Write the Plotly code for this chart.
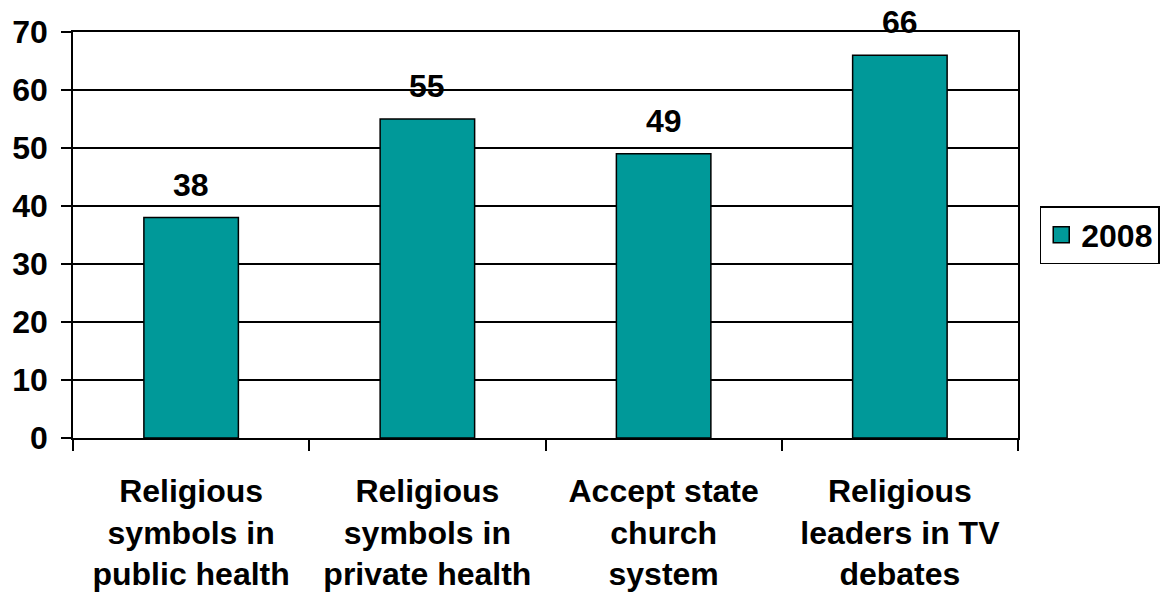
import plotly.graph_objects as go

categories = [
    "Religious<br>symbols in<br>public health",
    "Religious<br>symbols in<br>private health",
    "Accept state<br>church<br>system",
    "Religious<br>leaders in TV<br>debates",
]
values_2008 = [38, 55, 49, 66]
series_name = "2008"

teal = "#009999"
font_family = "Liberation Sans, Arial, sans-serif"
bold = dict(family=font_family, size=32, color="black", weight="bold")

fig = go.Figure()
fig.add_trace(go.Bar(
    x=categories,
    y=values_2008,
    name=series_name,
    marker=dict(color=teal, line=dict(color="black", width=1.5)),
    showlegend=False,
))

# legend entry with a larger square swatch
fig.add_trace(go.Scatter(
    x=[None], y=[None], mode="markers", name=series_name,
    marker=dict(symbol="square", size=19, color=teal,
                line=dict(color="black", width=1.5)),
    showlegend=True,
))

# value labels above each bar
for cat, val in zip(categories, values_2008):
    fig.add_annotation(
        x=cat, y=val, text=str(val), showarrow=False,
        yanchor="bottom", yshift=13,
        font=bold,
    )

fig.update_layout(
    width=1167, height=603,
    margin=dict(l=73, r=149, t=32, b=165, autoexpand=False),
    paper_bgcolor="white", plot_bgcolor="white",
    bargap=0.6,
    font=bold,
    legend=dict(
        x=1.023, y=0.5, xanchor="left", yanchor="middle",
        bordercolor="black", borderwidth=1.5,
        font=bold,
        itemwidth=30,
        tracegroupgap=0,
    ),
    xaxis=dict(
        type="category",
        showline=True, linecolor="black", linewidth=1.5,
        mirror=True,
        ticks="outside", tickson="boundaries", ticklen=11,
        tickcolor="black", tickwidth=1.5,
        showgrid=False,
        tickfont=bold,
        ticklabelstandoff=24,
        automargin=False,
    ),
    yaxis=dict(
        range=[0, 70], dtick=10,
        showline=True, linecolor="black", linewidth=1.5, mirror=True,
        showgrid=True, gridcolor="black", gridwidth=1.5,
        ticks="outside", ticklen=10, tickcolor="black", tickwidth=1.5,
        tickfont=bold,
        ticklabelstandoff=7,
        zeroline=False,
        automargin=False,
    ),
)

fig.write_html("out.html")
